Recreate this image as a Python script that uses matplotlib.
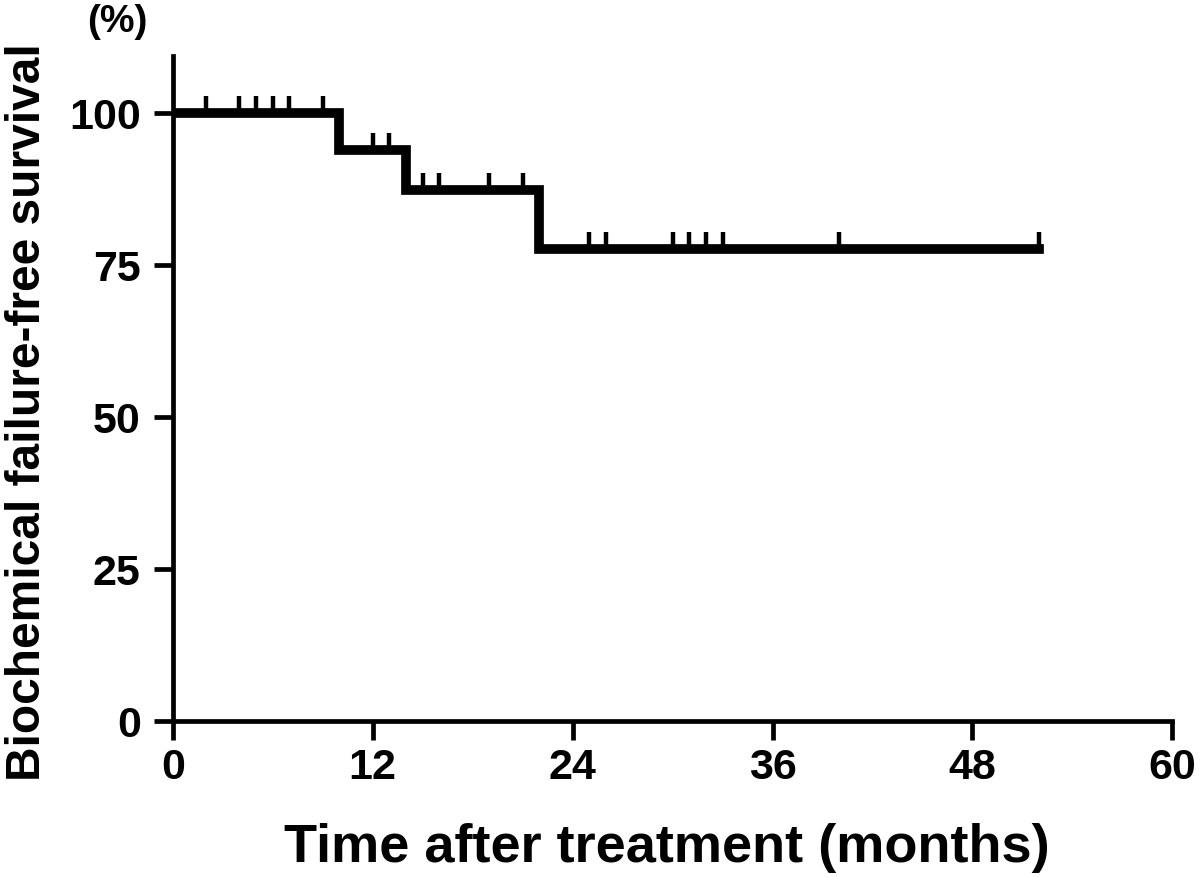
import matplotlib.pyplot as plt
from matplotlib.markers import TICKUP

plt.rcParams['font.family'] = ['Liberation Sans', 'DejaVu Sans']
plt.rcParams['font.weight'] = 'bold'

# step curve (months, % survival)
step_times = [0, 10, 14, 22, 52]
step_surv = [100, 93.8, 87.2, 77.6, 77.6]

# censored observations
cens_times = [2, 4, 5, 6, 7, 9, 12, 13, 15, 16, 19, 21,
              25, 26, 30, 31, 32, 33, 40, 52]
cens_surv = [100] * 6 + [93.8] * 2 + [87.2] * 4 + [77.6] * 8

x_ticks = [0, 12, 24, 36, 48, 60]
y_ticks = [0, 25, 50, 75, 100]

fig = plt.figure(figsize=(12, 8.78), dpi=100)
ax = fig.add_axes([0.144, 0.178, 0.833, 0.757])

ax.step(step_times, step_surv, where='post', color='black', linewidth=7,
        solid_joinstyle='miter')
ax.plot(cens_times, cens_surv, linestyle='none', marker=TICKUP,
        markersize=12, markeredgewidth=3.2, color='black')

ax.set_xlim(0, 60)
ax.set_ylim(0, 109.3)
ax.set_xticks(x_ticks)
ax.set_yticks(y_ticks)

for side in ['top', 'right']:
    ax.spines[side].set_visible(False)
for side in ['left', 'bottom']:
    ax.spines[side].set_linewidth(3.4)
ax.tick_params(direction='out', length=14, width=3.4, labelsize=31)
ax.tick_params(axis='y', pad=9)
ax.tick_params(axis='x', pad=5)
for lab in ax.get_xticklabels() + ax.get_yticklabels():
    lab.set_fontweight('bold')

ax.set_xlabel("Time after treatment (months)", fontsize=39, fontweight='bold', va='center')
ax.xaxis.set_label_coords(0.494, -0.19)
ax.set_ylabel("Biochemical failure-free survival", fontsize=34.5, fontweight='bold', va='center')
ax.yaxis.set_label_coords(-0.145, 0.466)
fig.text(0.098, 0.975, "(%)", fontsize=28, fontweight='bold', ha='center', va='center')

fig.savefig("out.png", dpi=100)
